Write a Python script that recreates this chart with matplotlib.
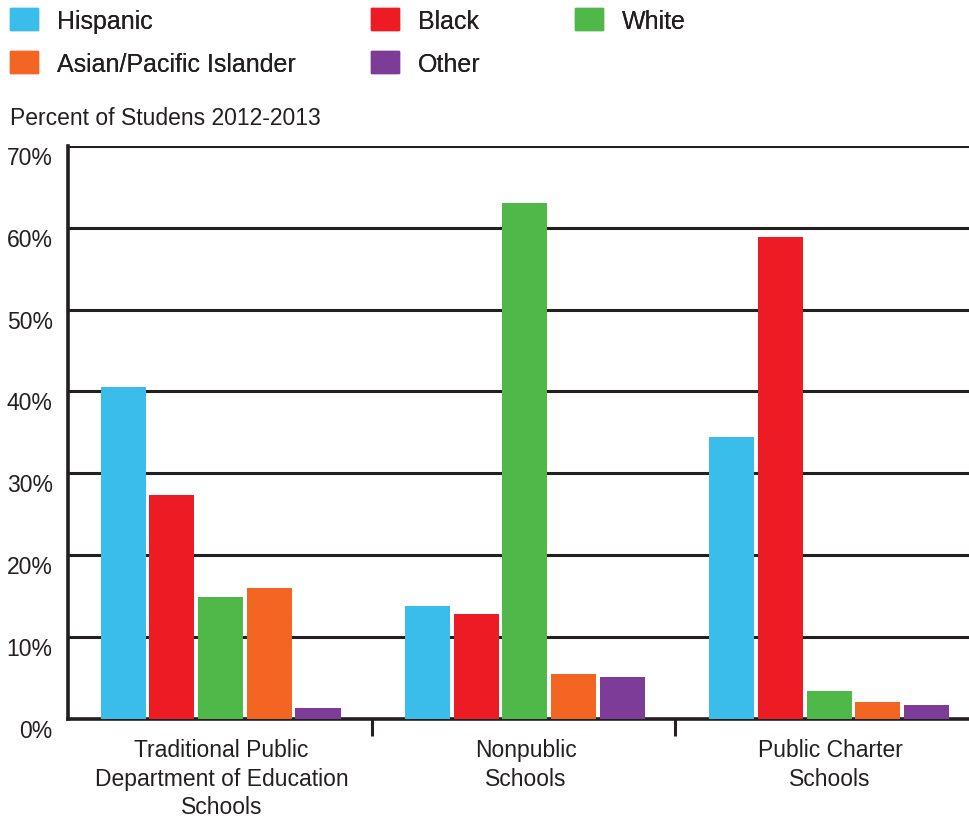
import numpy as np
import matplotlib.pyplot as plt
import matplotlib.transforms as mtransforms
from matplotlib.patches import Rectangle

# valores (percentagem de alunos 2012-2013)
categorias = ["Traditional Public\nDepartment of Education\nSchools",
              "Nonpublic\nSchools",
              "Public Charter\nSchools"]
grupos = ["Hispanic", "Black", "White", "Asian/Pacific Islander", "Other"]
hispanic = [40.5, 13.8, 34.4]
black = [27.3, 12.8, 58.9]
white = [14.9, 63.0, 3.4]
asian = [16.0, 5.5, 2.1]
other = [1.3, 5.1, 1.7]
yticks = [0, 10, 20, 30, 40, 50, 60, 70]

cores = {
    "Hispanic": "#3bbdec",
    "Black": "#ed1c24",
    "White": "#50b848",
    "Asian/Pacific Islander": "#f26522",
    "Other": "#7d3c97",
}
texto = "#231f20"

plt.rcParams['font.family'] = ['Liberation Sans', 'DejaVu Sans']

fig = plt.figure(figsize=(9.7, 8.2), dpi=100)
ax = fig.add_axes([0.070, 0.122, 0.930, 0.699])

series = [hispanic, black, white, asian, other]
x = np.arange(len(categorias))
passo = 0.16
largura = 0.148
for i, (nome, vals) in enumerate(zip(grupos, series)):
    ax.bar(x + (i - 2) * passo - 0.003, vals, width=largura,
           color=cores[nome], label=nome, zorder=3)

ax.set_xlim(-0.505, 2.46)
ax.set_ylim(0, 70)
ax.set_yticks(yticks)
ax.set_yticklabels([f"{v}%" for v in yticks], fontsize=16.5, color=texto)
ax.yaxis.grid(True, color=texto, linewidth=2.2, zorder=0)
ax.set_axisbelow(True)
ax.tick_params(axis='y', length=0, pad=11)
# os rótulos do eixo y ficam ligeiramente abaixo das linhas
desloc = mtransforms.ScaledTranslation(0, -9 / 100, fig.dpi_scale_trans)
for lbl in ax.get_yticklabels():
    lbl.set_transform(lbl.get_transform() + desloc)

# rótulos das categorias e marcas entre grupos
ax.set_xticks(x)
ax.set_xticklabels(categorias, fontsize=16.5, color=texto, linespacing=1.3)
ax.tick_params(axis='x', which='major', length=0, pad=14)
ax.set_xticks([0.495, 1.49], minor=True)
ax.tick_params(axis='x', which='minor', length=12, width=2.2, color=texto)

for lado in ['top', 'right']:
    ax.spines[lado].set_visible(False)
for lado in ['left', 'bottom']:
    ax.spines[lado].set_color(texto)
    ax.spines[lado].set_linewidth(2.6)

fig.text(0.010, 0.856, "Percent of Studens 2012-2013", fontsize=16.5,
         color=texto, ha='left', va='center')

# legenda em três colunas colocadas à mão
colunas = [(["Hispanic", "Asian/Pacific Islander"], 10),
           (["Black", "Other"], 371),
           (["White"], 575)]
for nomes, xpix in colunas:
    handles = [Rectangle((0, 0), 1, 1, color=cores[n]) for n in nomes]
    leg = fig.legend(handles, nomes, loc='upper left',
                     bbox_to_anchor=(xpix / 970, 1 - 9 / 820),
                     frameon=False, fontsize=18, borderpad=0, borderaxespad=0,
                     handlelength=1.12, handleheight=1.0, handletextpad=0.75,
                     labelspacing=0.72, labelcolor=texto)
    fig.add_artist(leg)

fig.savefig("out.png", dpi=100)
